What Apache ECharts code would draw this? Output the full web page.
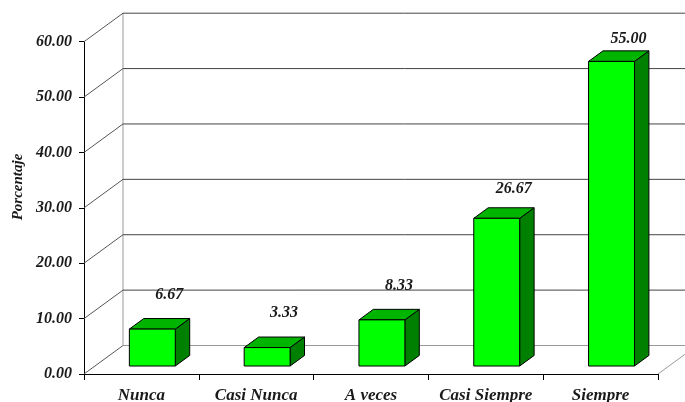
<!DOCTYPE html>
<html>
<head>
<meta charset="utf-8">
<script src="https://cdn.jsdelivr.net/npm/echarts@6/dist/echarts.min.js"></script>
<style>
  html, body { margin: 0; padding: 0; background: #fff; }
  #chart { width: 685px; height: 402px; }
</style>
</head>
<body>
<div id="chart"></div>
<script>
var categories = ['Nunca', 'Casi Nunca', 'A veces', 'Casi Siempre', 'Siempre'];
var porcentajes = [6.67, 3.33, 8.33, 26.67, 55.00];
var yTicks = [0, 10, 20, 30, 40, 50, 60];

var chart = echarts.init(document.getElementById('chart'));

// profundidad del efecto 3D
var DX = 39, DY = -28.5;
var serif = '"Liberation Serif", "Times New Roman", serif';

function renderWall(params, api) {
    var cs = params.coordSys;
    var v = api.value(0);
    var p = api.coord([0, v]);
    var x0 = cs.x, x1 = cs.x + cs.width;
    var y = p[1];
    var kids = [];
    // diagonal en la pared lateral
    kids.push({ type: 'line', shape: { x1: x0, y1: y, x2: x0 + DX, y2: y + DY },
        style: { stroke: '#555', lineWidth: 1 } });
    // linea en la pared del fondo
    kids.push({ type: 'line', shape: { x1: x0 + DX, y1: y + DY, x2: x1 + DX, y2: y + DY },
        style: { stroke: v === 0 ? '#999' : '#444', lineWidth: 1 } });
    if (v === 0) {
        kids.push({ type: 'line', shape: { x1: x1, y1: y, x2: x1 + DX, y2: y + DY },
            style: { stroke: '#999', lineWidth: 1 } });
        kids.push({ type: 'line', shape: { x1: x0 + DX, y1: y + DY, x2: x0 + DX, y2: cs.y + DY },
            style: { stroke: '#999', lineWidth: 1 } });
    }
    return { type: 'group', children: kids };
}

function renderBar(params, api) {
    var i = api.value(0), v = api.value(1);
    var top = api.coord([i, v]);
    var base = api.coord([i, 0]);
    var band = api.size([1, 0])[0];
    var w = band * 0.4;
    var f1 = 0.28, f2 = 0.37;
    var ox = DX * f1, oy = DY * f1;
    var ddx = DX * f2, ddy = DY * f2;
    var xl = top[0] - w / 2 + ox, xr = top[0] + w / 2 + ox;
    var yt = top[1] + oy, yb = base[1] + oy;
    var st = { stroke: '#000', lineWidth: 1 };
    var gap = 36 - 0.045 * (base[1] - top[1]);
    return {
        type: 'group',
        children: [
            { type: 'polygon', shape: { points: [[xr, yt], [xr + ddx, yt + ddy], [xr + ddx, yb + ddy], [xr, yb]] },
              style: Object.assign({ fill: '#008000' }, st) },
            { type: 'polygon', shape: { points: [[xl, yt], [xl + ddx, yt + ddy], [xr + ddx, yt + ddy], [xr, yt]] },
              style: Object.assign({ fill: '#00b400' }, st) },
            { type: 'rect', shape: { x: xl, y: yt, width: xr - xl, height: yb - yt },
              style: Object.assign({ fill: '#00ff00' }, st) },
            { type: 'text', x: top[0] + ox + 17, y: yt - gap,
              style: { text: v.toFixed(2), fill: '#1a1a1a', font: 'italic bold 16px ' + serif,
                       align: 'center', verticalAlign: 'middle' } }
        ]
    };
}

var option = {
    animation: false,
    grid: { left: 84, right: 27, top: 41.7, bottom: 28, outerBoundsMode: 'none' },
    xAxis: {
        type: 'category',
        data: categories,
        axisLine: { lineStyle: { color: '#000', width: 1 } },
        axisTick: { show: true, interval: 0, length: 6, lineStyle: { color: '#000' } },
        axisLabel: { interval: 0, color: '#1a1a1a', fontFamily: serif, fontStyle: 'italic', fontWeight: 'bold',
                     fontSize: 17, margin: 13 },
        splitLine: { show: false }
    },
    yAxis: {
        type: 'value',
        min: 0, max: 60, interval: 10,
        axisLine: { show: true, lineStyle: { color: '#000', width: 1 } },
        axisTick: { show: true, length: 5, lineStyle: { color: '#000' } },
        axisLabel: { color: '#1a1a1a', fontFamily: serif, fontStyle: 'italic', fontWeight: 'bold',
                     fontSize: 16, margin: 12, formatter: function (v) { return v.toFixed(2); } },
        splitLine: { show: false }
    },
    graphic: [{
        type: 'text', x: 18, y: 187, rotation: Math.PI / 2,
        style: { text: 'Porcentaje', fill: '#1a1a1a', font: 'italic bold 15px ' + serif,
                 align: 'center', verticalAlign: 'middle' }
    }],
    series: [
        { type: 'custom', renderItem: renderWall, data: yTicks.map(function (t) { return [t]; }),
          encode: { y: 0 }, silent: true, clip: false, z: 1 },
        { type: 'custom', renderItem: renderBar,
          data: porcentajes.map(function (v, i) { return [i, v]; }),
          encode: { x: 0, y: 1 }, clip: false, z: 3 }
    ]
};
chart.setOption(option);
</script>
</body>
</html>
